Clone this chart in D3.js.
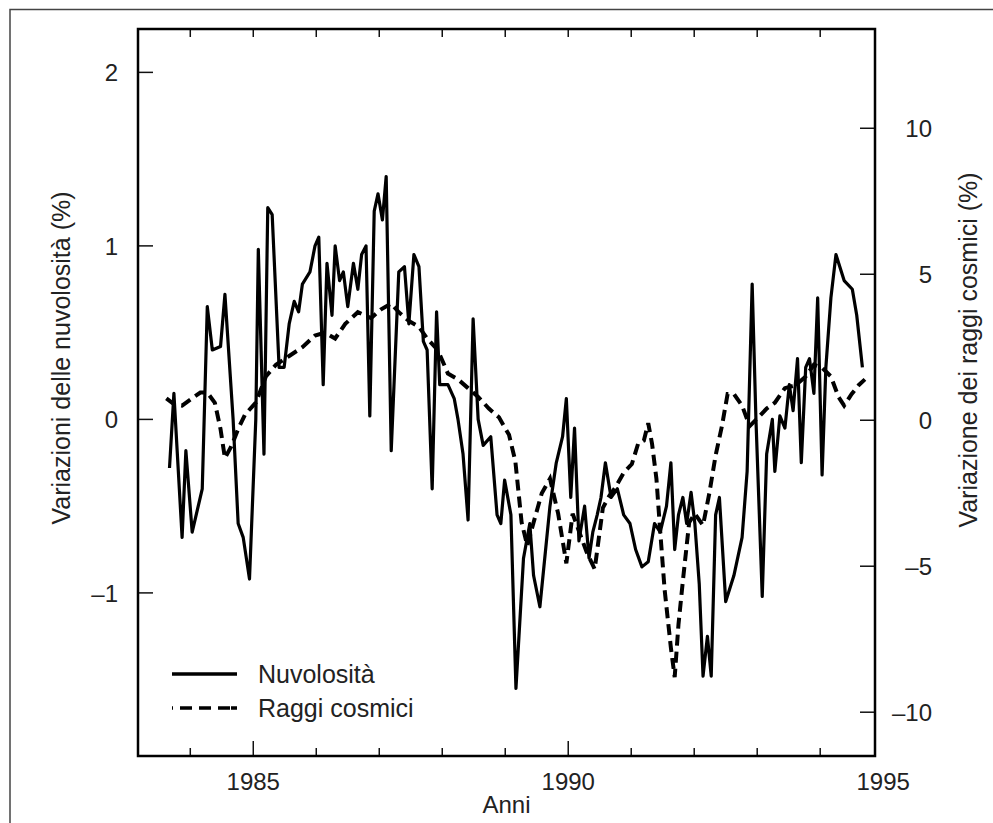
<!DOCTYPE html>
<html>
<head>
<meta charset="utf-8">
<script src="https://cdn.jsdelivr.net/npm/d3@7"></script>
<style>
body { margin: 0; background: #fff; }
text { font-family: "Liberation Sans", Arial, sans-serif; fill: #222; }
</style>
</head>
<body>
<div id="chart"></div>
<script>
// Nuvolosità (left axis, %)
var cloudYears = [1983.67,1983.74,1983.87,1983.93,1984.03,1984.19,1984.27,1984.35,1984.48,1984.55,1984.68,1984.76,1984.84,1984.94,1985.04,1985.08,1985.17,1985.23,1985.30,1985.41,1985.49,1985.57,1985.65,1985.72,1985.78,1985.90,1985.98,1986.04,1986.11,1986.17,1986.25,1986.30,1986.37,1986.43,1986.50,1986.59,1986.66,1986.72,1986.79,1986.85,1986.92,1986.98,1987.05,1987.11,1987.19,1987.31,1987.40,1987.47,1987.55,1987.63,1987.70,1987.76,1987.84,1987.91,1987.96,1988.09,1988.19,1988.25,1988.33,1988.41,1988.49,1988.57,1988.65,1988.77,1988.87,1988.93,1988.99,1989.09,1989.17,1989.29,1989.39,1989.45,1989.55,1989.71,1989.81,1989.91,1989.97,1990.04,1990.10,1990.17,1990.26,1990.33,1990.39,1990.46,1990.52,1990.59,1990.68,1990.78,1990.88,1990.98,1991.07,1991.17,1991.27,1991.37,1991.46,1991.56,1991.63,1991.69,1991.75,1991.82,1991.88,1991.95,1992.01,1992.08,1992.14,1992.21,1992.27,1992.34,1992.40,1992.50,1992.63,1992.76,1992.84,1992.92,1992.98,1993.08,1993.15,1993.24,1993.28,1993.36,1993.44,1993.51,1993.57,1993.64,1993.70,1993.77,1993.83,1993.90,1993.96,1994.03,1994.09,1994.17,1994.25,1994.38,1994.51,1994.58,1994.67];
var cloudValues = [-0.28,0.15,-0.68,-0.18,-0.65,-0.4,0.65,0.4,0.42,0.72,0.0,-0.6,-0.68,-0.92,0.0,0.98,-0.2,1.22,1.18,0.3,0.3,0.55,0.68,0.62,0.78,0.85,1.0,1.05,0.2,0.9,0.6,1.0,0.8,0.85,0.65,0.9,0.75,0.95,1.0,0.02,1.2,1.3,1.15,1.4,-0.18,0.85,0.88,0.55,0.95,0.88,0.45,0.4,-0.4,0.62,0.2,0.2,0.12,0.0,-0.2,-0.58,0.58,0.0,-0.15,-0.1,-0.55,-0.6,-0.35,-0.55,-1.55,-0.8,-0.6,-0.9,-1.08,-0.5,-0.25,-0.1,0.12,-0.45,-0.05,-0.7,-0.5,-0.8,-0.65,-0.55,-0.45,-0.25,-0.45,-0.4,-0.55,-0.6,-0.75,-0.85,-0.82,-0.6,-0.65,-0.5,-0.25,-0.75,-0.55,-0.45,-0.6,-0.42,-0.6,-0.95,-1.48,-1.25,-1.48,-0.55,-0.45,-1.05,-0.9,-0.68,-0.3,0.78,0.0,-1.02,-0.2,0.0,-0.3,0.02,-0.05,0.2,0.05,0.35,-0.25,0.3,0.35,0.15,0.7,-0.32,0.3,0.7,0.95,0.8,0.75,0.6,0.3];

// Raggi cosmici (right axis, %)
var cosmicYears = [1983.62,1983.74,1983.87,1984.03,1984.16,1984.27,1984.39,1984.48,1984.55,1984.65,1984.76,1984.87,1985.04,1985.20,1985.36,1985.57,1985.78,1985.98,1986.14,1986.30,1986.46,1986.66,1986.87,1987.03,1987.19,1987.31,1987.47,1987.63,1987.76,1987.93,1988.09,1988.25,1988.41,1988.57,1988.74,1988.90,1989.06,1989.16,1989.26,1989.35,1989.45,1989.58,1989.71,1989.84,1989.97,1990.07,1990.17,1990.29,1990.42,1990.55,1990.65,1990.75,1990.88,1991.01,1991.11,1991.20,1991.27,1991.33,1991.40,1991.46,1991.53,1991.63,1991.69,1991.75,1991.82,1991.92,1992.01,1992.14,1992.24,1992.34,1992.44,1992.53,1992.63,1992.76,1992.88,1993.02,1993.15,1993.28,1993.44,1993.61,1993.77,1993.90,1994.03,1994.17,1994.29,1994.38,1994.50,1994.61,1994.71];
var cosmicValues = [0.75,0.55,0.5,0.75,0.95,0.95,0.6,-0.3,-1.3,-0.9,-0.3,0.2,0.6,1.5,1.9,2.2,2.5,2.9,3.0,2.8,3.3,3.7,3.5,3.8,4.0,3.7,3.4,3.2,2.8,2.4,1.6,1.4,1.1,0.8,0.4,0.1,-0.5,-1.4,-3.5,-4.3,-3.5,-2.5,-2.0,-3.2,-4.9,-3.2,-3.8,-4.5,-5.1,-3.0,-2.6,-2.3,-1.8,-1.5,-0.8,-0.7,-0.1,-0.8,-2.0,-3.8,-5.8,-7.8,-8.8,-7.0,-5.5,-3.5,-3.2,-3.6,-2.5,-1.2,-0.2,0.9,0.9,0.5,-0.2,0.1,0.4,0.6,1.1,1.2,1.5,1.9,1.8,1.5,0.8,0.5,0.9,1.2,1.4];

var yearTicks = [1984,1985,1986,1987,1988,1989,1990,1991,1992,1993,1994];
var yearLabels = [1985, 1990, 1995];
var leftTicks = [-1, 0, 1, 2];
var rightTicks = [-10, -5, 0, 5, 10];

var width = 993, height = 823;
var margin = {top: 29, right: 118, bottom: 67, left: 138};

var svg = d3.select("#chart").append("svg")
	.attr("width", width)
	.attr("height", height);

// outer frame
svg.append("path")
	.attr("d", "M10,823V9.5H993")
	.attr("fill", "none")
	.attr("stroke", "#444")
	.attr("stroke-width", 1.5);

var x = d3.scaleLinear().domain([1983.17, 1994.87]).range([margin.left, width - margin.right]);
var yL = d3.scaleLinear().domain([-1.94, 2.25]).range([height - margin.bottom, margin.top]);
var yR = d3.scaleLinear().domain([-11.5, 13.4]).range([height - margin.bottom, margin.top]);

var x0 = margin.left, x1 = width - margin.right, yb = height - margin.bottom, yt = margin.top;

// ticks (inward)
var g = svg.append("g").attr("stroke", "#111").attr("stroke-width", 1.5);
yearTicks.forEach(function(t){
	var big = (t % 5 == 0);
	g.append("line").attr("x1", x(t)).attr("x2", x(t)).attr("y1", yb).attr("y2", yb - (big ? 15 : 8));
	g.append("line").attr("x1", x(t)).attr("x2", x(t)).attr("y1", yt).attr("y2", yt + 8);
});
leftTicks.forEach(function(t){
	g.append("line").attr("x1", x0).attr("x2", x0 + 15).attr("y1", yL(t)).attr("y2", yL(t));
});
rightTicks.forEach(function(t){
	g.append("line").attr("x1", x1).attr("x2", x1 - 15).attr("y1", yR(t)).attr("y2", yR(t));
});

// tick labels
svg.selectAll(".xl").data(yearLabels).enter().append("text")
	.attr("x", function(d){ return x(d); })
	.attr("y", yb + 34)
	.attr("text-anchor", "middle")
	.attr("font-size", 24)
	.text(function(d){ return d; });
svg.selectAll(".yl").data(leftTicks).enter().append("text")
	.attr("x", 118)
	.attr("y", function(d){ return yL(d) + 9; })
	.attr("text-anchor", "end")
	.attr("font-size", 24)
	.text(function(d){ return d < 0 ? "\u2013" + Math.abs(d) : d; });
svg.selectAll(".yr").data(rightTicks).enter().append("text")
	.attr("x", 932)
	.attr("y", function(d){ return yR(d) + 9; })
	.attr("text-anchor", "end")
	.attr("font-size", 24)
	.text(function(d){ return d < 0 ? "\u2013" + Math.abs(d) : d; });

// axis titles
svg.append("text").attr("x", (x0 + x1) / 2).attr("y", 813)
	.attr("text-anchor", "middle").attr("font-size", 24).text("Anni");
svg.append("text").attr("transform", "translate(70,358) rotate(-90)")
	.attr("text-anchor", "middle").attr("font-size", 25).text("Variazioni delle nuvolosità (%)");
svg.append("text").attr("transform", "translate(977,350) rotate(-90)")
	.attr("text-anchor", "middle").attr("font-size", 25).text("Variazione dei raggi cosmici (%)");

// series
var cloudLine = d3.line().x(function(d, i){ return x(cloudYears[i]); }).y(function(d){ return yL(d); });
var cosmicLine = d3.line().x(function(d, i){ return x(cosmicYears[i]); }).y(function(d){ return yR(d); });

svg.append("path").datum(cosmicValues)
	.attr("d", cosmicLine)
	.attr("fill", "none").attr("stroke", "#000")
	.attr("stroke-width", 4).attr("stroke-dasharray", "11,6");
svg.append("path").datum(cloudValues)
	.attr("d", cloudLine)
	.attr("fill", "none").attr("stroke", "#000")
	.attr("stroke-width", 3.2).attr("stroke-linejoin", "round");

// legend
svg.append("line").attr("x1", 172).attr("x2", 237).attr("y1", 674).attr("y2", 674)
	.attr("stroke", "#000").attr("stroke-width", 3.5);
svg.append("line").attr("x1", 172).attr("x2", 237).attr("y1", 708).attr("y2", 708)
	.attr("stroke", "#000").attr("stroke-width", 3.5).attr("stroke-dasharray", "1,7,12,7,12,7,12");
svg.append("text").attr("x", 258).attr("y", 683).attr("font-size", 25).text("Nuvolosità");
svg.append("text").attr("x", 258).attr("y", 717).attr("font-size", 25).text("Raggi cosmici");

// plot frame
svg.append("rect").attr("x", x0).attr("y", yt).attr("width", x1 - x0).attr("height", yb - yt)
	.attr("fill", "none").attr("stroke", "#000").attr("stroke-width", 2.5);
</script>
</body>
</html>
